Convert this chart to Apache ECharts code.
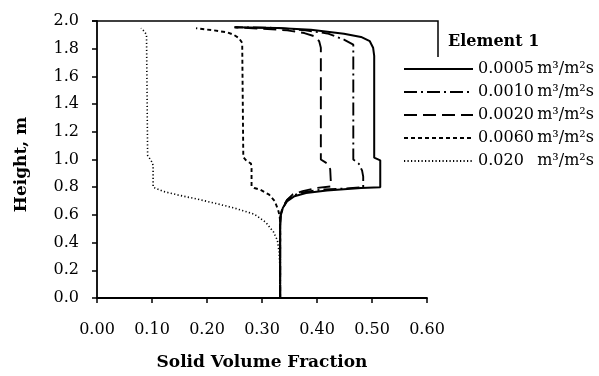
<!DOCTYPE html>
<html><head><meta charset="utf-8">
<script src="https://cdn.jsdelivr.net/npm/echarts@6/dist/echarts.min.js"></script>
<style>html,body{margin:0;padding:0;background:#fff}#c{width:599px;height:376px}</style>
</head><body><div id="c"></div>
<script>
const xTicks = [0, 0.1, 0.2, 0.3, 0.4, 0.5, 0.6];
const yTicks = [0, 0.2, 0.4, 0.6, 0.8, 1.0, 1.2, 1.4, 1.6, 1.8, 2.0];
const seriesNames = ['0.0005\u2009m\u00b3/m\u00b2s', '0.0010\u2009m\u00b3/m\u00b2s', '0.0020\u2009m\u00b3/m\u00b2s', '0.0060\u2009m\u00b3/m\u00b2s', '0.020  \u2009m\u00b3/m\u00b2s'];

const height0005 = [0, 0.52, 0.594, 0.652, 0.70, 0.735, 0.758, 0.777, 0.795, 0.80, 0.994, 1.013, 1.748, 1.807, 1.854, 1.885, 1.908, 1.936, 1.95, 1.955];
const frac0005   = [0.333, 0.333, 0.334, 0.338, 0.346, 0.359, 0.38, 0.418, 0.48, 0.515, 0.515, 0.504, 0.504, 0.502, 0.496, 0.48, 0.449, 0.389, 0.328, 0.25];

const height0010 = [0, 0.52, 0.60, 0.655, 0.705, 0.74, 0.763, 0.782, 0.79, 0.80, 0.876, 0.92, 0.97, 1.0, 1.83, 1.866, 1.91, 1.932, 1.95, 1.955];
const frac0010   = [0.333, 0.333, 0.334, 0.339, 0.345, 0.356, 0.374, 0.406, 0.449, 0.484, 0.484, 0.482, 0.476, 0.466, 0.466, 0.449, 0.419, 0.379, 0.329, 0.252];

const height0020 = [0, 0.55, 0.606, 0.66, 0.71, 0.748, 0.772, 0.795, 0.805, 0.85, 0.93, 0.97, 1.0, 1.807, 1.854, 1.89, 1.913, 1.932, 1.945, 1.955];
const frac0020   = [0.333, 0.333, 0.334, 0.338, 0.346, 0.356, 0.374, 0.4, 0.425, 0.425, 0.424, 0.419, 0.407, 0.407, 0.404, 0.395, 0.377, 0.346, 0.298, 0.25];

const height0060 = [0, 0.546, 0.594, 0.64, 0.70, 0.746, 0.782, 0.794, 0.808, 0.935, 0.97, 0.994, 1.018, 1.842, 1.877, 1.90, 1.918, 1.932, 1.948];
const frac0060   = [0.333, 0.333, 0.332, 0.329, 0.323, 0.313, 0.297, 0.286, 0.281, 0.281, 0.28, 0.271, 0.266, 0.264, 0.258, 0.249, 0.237, 0.213, 0.18];

const height020 = [0, 0.2, 0.334, 0.417, 0.476, 0.546, 0.605, 0.648, 0.683, 0.716, 0.742, 0.77, 0.80, 0.95, 0.975, 1.0, 1.03, 1.90, 1.925, 1.948];
const frac020   = [0.333, 0.333, 0.331, 0.328, 0.321, 0.307, 0.286, 0.251, 0.216, 0.18, 0.149, 0.12, 0.102, 0.102, 0.101, 0.097, 0.092, 0.09, 0.086, 0.08];

const FONT = 'DejaVu Serif';
function pairs(xs, ys){ return xs.map((x,i)=>[x, ys[i]]); }
const dashes = ['solid', [13,4,2,4], [13,6], [4,3], [1.2,2.3]];
const widths = [2, 1.9, 1.9, 1.9, 1.6];
const data = [pairs(frac0005,height0005), pairs(frac0010,height0010), pairs(frac0020,height0020), pairs(frac0060,height0060), pairs(frac020,height020)];

const chart = echarts.init(document.getElementById('c'), null, {renderer:'canvas'});
chart.setOption({
  backgroundColor:'#fff',
  animation:false,
  title:{text:'Element 1', left:443, top:29, textStyle:{fontFamily:FONT, fontWeight:'bold', fontSize:16, color:'#000'}},
  legend:{orient:'vertical', left:403, top:61, padding:0, itemWidth:69, itemHeight:16, itemGap:7,
    itemStyle:{opacity:0}, lineStyle:{color:'#000'},
    textStyle:{fontFamily:FONT, fontSize:16, lineHeight:16, color:'#000'}, data:seriesNames},
  grid:{left:97, right:172, top:21, bottom:72},
  xAxis:{type:'value', min:0, max:0.6, interval:0.1,
    name:'Solid Volume Fraction', nameLocation:'middle', nameGap:56,
    nameTextStyle:{fontFamily:FONT, fontWeight:'bold', fontSize:17, color:'#000'},
    axisLine:{lineStyle:{color:'#000', width:1.8}},
    axisTick:{inside:false, length:5, lineStyle:{color:'#000', width:1.5}},
    axisLabel:{margin:24, fontFamily:FONT, fontSize:16, color:'#000', formatter:v=>v.toFixed(2)},
    splitLine:{show:false}},
  yAxis:{type:'value', min:0, max:2, interval:0.2,
    name:'Height, m', nameLocation:'middle', nameGap:67,
    nameTextStyle:{fontFamily:FONT, fontWeight:'bold', fontSize:17, color:'#000', padding:[0,10,0,0]},
    axisLine:{show:true, lineStyle:{color:'#000', width:1.8}},
    axisTick:{show:true, inside:false, length:5, lineStyle:{color:'#000', width:1.5}},
    axisLabel:{margin:18, fontFamily:FONT, fontSize:16, color:'#000', formatter:v=>v.toFixed(1)},
    splitLine:{show:false}},
  graphic:[{type:'polyline', shape:{points:[[92,21],[438,21],[438,57]]}, style:{stroke:'#000', lineWidth:1.5, fill:null}, z:10}],
  series: data.map((d,i)=>({
    name:seriesNames[i], type:'line', data:d, symbol:'none', showSymbol:false,
    lineStyle:{color:'#000', width:widths[i], type:dashes[i]}, itemStyle:{color:'#000'}
  }))
});
</script></body></html>
